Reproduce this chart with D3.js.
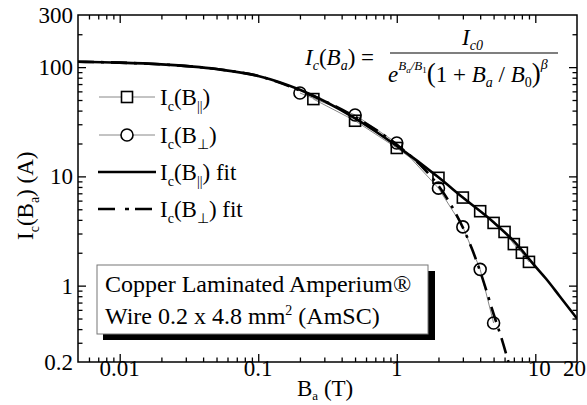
<!DOCTYPE html>
<html>
<head>
<meta charset="utf-8">
<script src="https://cdn.jsdelivr.net/npm/d3@7"></script>
<style>
  body { margin: 0; background: #fff; }
  text { font-family: "Liberation Serif", "Times New Roman", serif; fill: #000; }
</style>
</head>
<body>
<div id="chart" style="width:587px;height:405px"></div>
<script>
// measured points, parallel field
var bPar = [0.25, 0.5, 1, 2, 3, 4, 5, 6, 7, 8, 9];
var icPar = [51, 32.3, 18.2, 9.7, 6.4, 4.8, 3.75, 3.1, 2.4, 2.0, 1.65];
// measured points, perpendicular field
var bPerp = [0.2, 0.5, 1, 2, 3, 4, 5];
var icPerp = [58, 36.5, 20.2, 7.8, 3.45, 1.41, 0.455];
// fit curves
var fitParB = [0.005, 0.01, 0.02, 0.05, 0.1, 0.2, 0.5, 1, 2, 3, 5, 7, 10, 12, 15, 20];
var fitParI = [112, 110, 106, 96, 83, 62, 34, 19, 9.8, 6.4, 3.8, 2.55, 1.5, 1.15, 0.8, 0.5];
var fitPerpB = [0.005, 0.01, 0.02, 0.05, 0.1, 0.2, 0.5, 1, 1.5, 2, 2.5, 3, 3.5, 4, 4.5, 5, 5.7, 6.4, 7];
var fitPerpI = [112, 110, 106, 96, 83, 61, 35, 19.5, 12.5, 8.2, 5.3, 3.4, 2.15, 1.35, 0.85, 0.55, 0.33, 0.2, 0.134];
// ticks
var xMajor = [0.01, 0.1, 1, 10];
var xLabels = ["0.01", "0.1", "1", "10", "20"];
var xLabelVals = [0.01, 0.1, 1, 10, 20];
var yMajor = [1, 10, 100];
var yLabels = ["0.2", "1", "10", "100", "300"];
var yLabelVals = [0.2, 1, 10, 100, 300];

var W = 587, H = 405;
var m = {left: 78, top: 15, right: 10, bottom: 43};
var pw = W - m.left - m.right, ph = H - m.top - m.bottom;

var svg = d3.select("#chart").append("svg")
  .attr("width", W)
  .attr("height", H);

var scX = d3.scaleLog().domain([0.005, 20]).range([m.left, m.left + pw]);
var scY = d3.scaleLog().domain([0.2, 300]).range([m.top + ph, m.top]);

// minor ticks: 2..9 of each decade inside the domain
var minorOf = function(dom) {
  var out = [];
  for (var e = -3; e <= 3; e++) {
    for (var k = 2; k <= 9; k++) {
      var v = k * Math.pow(10, e);
      if (v > dom[0] * 1.0001 && v < dom[1] * 0.9999) out.push(v);
    }
  }
  return out;
};
var xMinor = minorOf(scX.domain());
var yMinor = minorOf(scY.domain());

var drawTicks = function(axisFn, scale, vals, len, transform) {
  var g = svg.append("g")
    .attr("transform", transform)
    .call(axisFn(scale).tickValues(vals).tickSize(-len).tickFormat(""));
  g.select(".domain").remove();
  g.selectAll("line").attr("stroke", "#000").attr("stroke-width", 1.3);
};

[[xMajor, 8], [xMinor, 4.5]].forEach(function(t) {
  drawTicks(d3.axisBottom, scX, t[0], t[1], `translate(0,${m.top + ph})`);
  drawTicks(d3.axisTop, scX, t[0], t[1], `translate(0,${m.top})`);
});
[[yMajor, 8], [yMinor, 4.5]].forEach(function(t) {
  drawTicks(d3.axisLeft, scY, t[0], t[1], `translate(${m.left},0)`);
  drawTicks(d3.axisRight, scY, t[0], t[1], `translate(${m.left + pw},0)`);
});

// tick labels (the last two are squeezed against the right edge, as in the figure)
var xShift = [0, 0, 0, 4, 0];
svg.append("g").selectAll("text")
  .data(xLabelVals)
  .enter()
  .append("text")
  .attr("x", (d, i) => i === 4 ? W - 1 : scX(d) + xShift[i])
  .attr("y", m.top + ph + 14)
  .attr("text-anchor", (d, i) => i === 4 ? "end" : "middle")
  .attr("font-size", 23)
  .text((d, i) => xLabels[i]);

svg.append("g").selectAll("text")
  .data(yLabelVals)
  .enter()
  .append("text")
  .attr("x", m.left - 5)
  .attr("y", d => scY(d) + 8)
  .attr("text-anchor", "end")
  .attr("font-size", 23)
  .text((d, i) => yLabels[i]);

// frame
svg.append("rect")
  .attr("x", m.left).attr("y", m.top)
  .attr("width", pw).attr("height", ph)
  .attr("fill", "none").attr("stroke", "#000").attr("stroke-width", 1.5);

// axis titles
var xt = svg.append("text")
  .attr("x", 297).attr("y", 396)
  .attr("font-size", 23);
xt.append("tspan").text("B");
xt.append("tspan").attr("dy", 4).attr("font-size", 13).text("a");
xt.append("tspan").attr("dy", -4).text(" (T)");

var yt = svg.append("text")
  .attr("transform", "translate(33,240) rotate(-90)")
  .attr("font-size", 23);
yt.append("tspan").text("I");
yt.append("tspan").attr("dy", 6).attr("font-size", 14).text("c");
yt.append("tspan").attr("dy", -6).text("(B");
yt.append("tspan").attr("dy", 6).attr("font-size", 14).text("a");
yt.append("tspan").attr("dy", -6).text(") (A)");

// clip
svg.append("clipPath").attr("id", "clip")
  .append("rect")
  .attr("x", m.left).attr("y", m.top)
  .attr("width", pw).attr("height", ph);

var plot = svg.append("g").attr("clip-path", "url(#clip)");

var line = d3.line()
  .curve(d3.curveMonotoneX)
  .x(d => scX(d[0]))
  .y(d => scY(d[1]));

var dataPar = bPar.map((b, i) => [b, icPar[i]]);
var dataPerp = bPerp.map((b, i) => [b, icPerp[i]]);

// thin gray connecting lines
plot.append("path")
  .attr("d", d3.line().x(d => scX(d[0])).y(d => scY(d[1]))(dataPar))
  .attr("fill", "none").attr("stroke", "#888").attr("stroke-width", 1);
plot.append("path")
  .attr("d", d3.line().x(d => scX(d[0])).y(d => scY(d[1]))(dataPerp))
  .attr("fill", "none").attr("stroke", "#888").attr("stroke-width", 1);

// fits
plot.append("path")
  .attr("d", line(fitParB.map((b, i) => [b, fitParI[i]])))
  .attr("fill", "none").attr("stroke", "#000").attr("stroke-width", 2.6);
plot.append("path")
  .attr("d", line(fitPerpB.map((b, i) => [b, fitPerpI[i]])))
  .attr("fill", "none").attr("stroke", "#000").attr("stroke-width", 2.6)
  .attr("stroke-dasharray", "16,7,3,7");

// markers
var sq = 11;
plot.selectAll("rect.sq")
  .data(dataPar)
  .enter()
  .append("rect")
  .attr("class", "sq")
  .attr("x", d => scX(d[0]) - sq / 2)
  .attr("y", d => scY(d[1]) - sq / 2)
  .attr("width", sq).attr("height", sq)
  .attr("fill", "none").attr("stroke", "#000").attr("stroke-width", 1.6);
plot.selectAll("circle")
  .data(dataPerp)
  .enter()
  .append("circle")
  .attr("cx", d => scX(d[0]))
  .attr("cy", d => scY(d[1]))
  .attr("r", 6)
  .attr("fill", "none").attr("stroke", "#000").attr("stroke-width", 1.6);

// legend
var legRows = [97, 135, 172, 209];
var leg = svg.append("g");
var addLabel = function(y, sub, tail) {
  var t = leg.append("text").attr("x", 160).attr("y", y + 8).attr("font-size", 23);
  t.append("tspan").text("I");
  t.append("tspan").attr("dy", 6).attr("font-size", 14).text("c");
  t.append("tspan").attr("dy", -6).text("(B");
  t.append("tspan").attr("dy", 6).attr("font-size", 14).text(sub);
  t.append("tspan").attr("dy", -6).text(")" + tail);
};
leg.append("line").attr("x1", 99).attr("x2", 155).attr("y1", legRows[0]).attr("y2", legRows[0])
  .attr("stroke", "#888").attr("stroke-width", 1);
leg.append("rect").attr("x", 127 - sq / 2).attr("y", legRows[0] - sq / 2)
  .attr("width", sq).attr("height", sq)
  .attr("fill", "#fff").attr("stroke", "#000").attr("stroke-width", 1.6);
addLabel(legRows[0], "||", "");
leg.append("line").attr("x1", 99).attr("x2", 155).attr("y1", legRows[1]).attr("y2", legRows[1])
  .attr("stroke", "#888").attr("stroke-width", 1);
leg.append("circle").attr("cx", 127).attr("cy", legRows[1]).attr("r", 6)
  .attr("fill", "#fff").attr("stroke", "#000").attr("stroke-width", 1.6);
addLabel(legRows[1], "\u22A5", "");
leg.append("line").attr("x1", 98).attr("x2", 156).attr("y1", legRows[2]).attr("y2", legRows[2])
  .attr("stroke", "#000").attr("stroke-width", 2.6);
addLabel(legRows[2], "||", " fit");
leg.append("line").attr("x1", 98).attr("x2", 156).attr("y1", legRows[3]).attr("y2", legRows[3])
  .attr("stroke", "#000").attr("stroke-width", 2.6).attr("stroke-dasharray", "17,10,4,6");
addLabel(legRows[3], "\u22A5", " fit");

// annotation box with shadow
svg.append("rect").attr("x", 103).attr("y", 271).attr("width", 332).attr("height", 69).attr("fill", "#000");
svg.append("rect").attr("x", 97).attr("y", 265).attr("width", 331).attr("height", 69)
  .attr("fill", "#fff").attr("stroke", "#777").attr("stroke-width", 1);
svg.append("text").attr("x", 105).attr("y", 292).attr("font-size", 24).text("Copper Laminated Amperium\u00AE");
var w2 = svg.append("text").attr("x", 105).attr("y", 324).attr("font-size", 24);
w2.append("tspan").text("Wire 0.2 x 4.8 mm");
w2.append("tspan").attr("dy", -9).attr("font-size", 14).text("2");
w2.append("tspan").attr("dy", 9).text(" (AmSC)");

// formula
var f = svg.append("g").attr("font-size", 23);
var lhs = f.append("text").attr("x", 305).attr("y", 65);
lhs.append("tspan").attr("font-style", "italic").text("I");
lhs.append("tspan").attr("dy", 5).attr("font-size", 14).attr("font-style", "italic").text("c");
lhs.append("tspan").attr("dy", -5).text("(");
lhs.append("tspan").attr("font-style", "italic").text("B");
lhs.append("tspan").attr("dy", 5).attr("font-size", 14).attr("font-style", "italic").text("a");
lhs.append("tspan").attr("dy", -5).text(") =");
var num = f.append("text").attr("x", 462).attr("y", 45);
num.append("tspan").attr("font-style", "italic").text("I");
num.append("tspan").attr("dy", 5).attr("font-size", 14).attr("font-style", "italic").text("c0");
f.append("line").attr("x1", 390).attr("x2", 558).attr("y1", 53).attr("y2", 53)
  .attr("stroke", "#000").attr("stroke-width", 1.2);
var den = f.append("text").attr("x", 388).attr("y", 82);
den.append("tspan").attr("font-style", "italic").text("e");
den.append("tspan").attr("dy", -12).attr("font-size", 13).attr("font-style", "italic").text("B");
den.append("tspan").attr("dy", 3).attr("font-size", 9).attr("font-style", "italic").text("a");
den.append("tspan").attr("dy", -3).attr("font-size", 13).attr("font-style", "italic").text("/B");
den.append("tspan").attr("dy", 3).attr("font-size", 9).text("1");
den.append("tspan").attr("dy", 9).attr("font-size", 27).text("(");
den.append("tspan").attr("font-size", 23).text("1 + ");
den.append("tspan").attr("font-style", "italic").text("B");
den.append("tspan").attr("dy", 5).attr("font-size", 14).attr("font-style", "italic").text("a");
den.append("tspan").attr("dy", -5).text(" / ");
den.append("tspan").attr("font-style", "italic").text("B");
den.append("tspan").attr("dy", 5).attr("font-size", 14).text("0");
den.append("tspan").attr("dy", -5).attr("font-size", 27).text(")");
den.append("tspan").attr("dy", -13).attr("font-size", 14).attr("font-style", "italic").text("\u03B2");
</script>
</body>
</html>
